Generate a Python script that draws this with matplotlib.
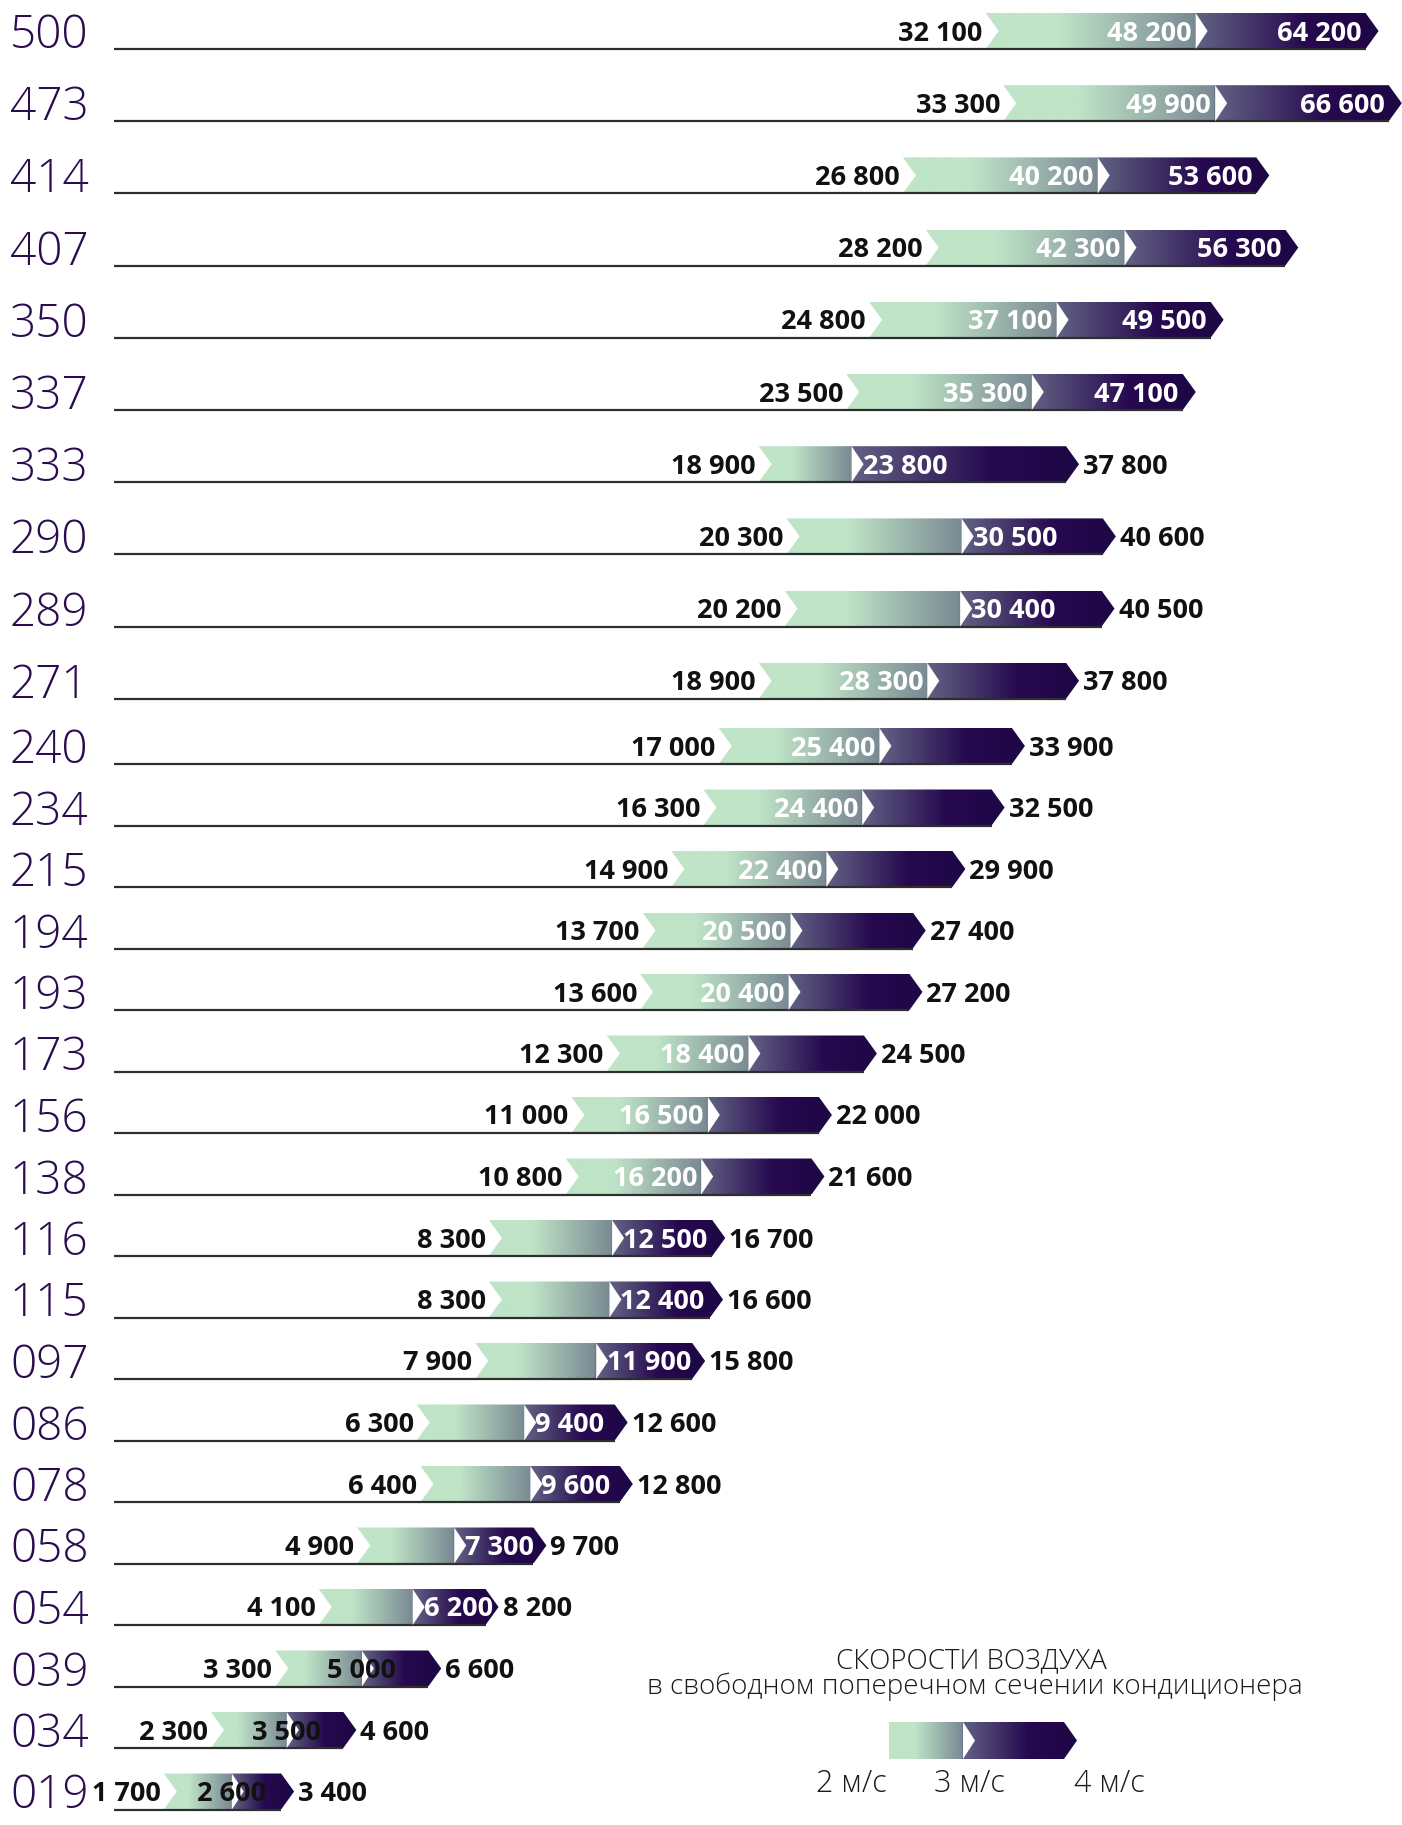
import numpy as np
import matplotlib.pyplot as plt
from matplotlib.patches import Polygon
from matplotlib.transforms import IdentityTransform
from matplotlib.colors import to_rgb

# air flow, m3/h, at 2, 3 and 4 m/s
models = ['500', '473', '414', '407', '350', '337', '333', '290', '289', '271',
          '240', '234', '215', '194', '193', '173', '156', '138', '116', '115',
          '097', '086', '078', '058', '054', '039', '034', '019']
flow_2 = [32100, 33300, 26800, 28200, 24800, 23500, 18900, 20300, 20200, 18900,
          17000, 16300, 14900, 13700, 13600, 12300, 11000, 10800, 8300, 8300,
          7900, 6300, 6400, 4900, 4100, 3300, 2300, 1700]
flow_3 = [48200, 49900, 40200, 42300, 37100, 35300, 23800, 30500, 30400, 28300,
          25400, 24400, 22400, 20500, 20400, 18400, 16500, 16200, 12500, 12400,
          11900, 9400, 9600, 7300, 6200, 5000, 3500, 2600]
flow_4 = [64200, 66600, 53600, 56300, 49500, 47100, 37800, 40600, 40500, 37800,
          33900, 32500, 29900, 27400, 27200, 24500, 22000, 21600, 16700, 16600,
          15800, 12600, 12800, 9700, 8200, 6600, 4600, 3400]

# where the labels sit (layout only)
mid_place = ['before'] * 6 + ['after'] * 3 + ['before'] * 9 + ['after'] * 7 + ['center'] * 3
end_place = ['inside'] * 6 + ['outside'] * 22

W, H = 1402, 1825
P = 0.4
fig = plt.figure(figsize=(W / 100, H / 100), dpi=100)
ax = fig.add_axes([0, 0, 1, 1])
ax.axis('off')


def fwd(v):
    return np.power(np.maximum(v, 1e-9), P)


def inv(u):
    return np.power(np.maximum(u, 0), 1 / P)


ax.set_xscale('function', functions=(fwd, inv))
ax.set_xlim(inv(10.85), inv(85.7))
ax.set_ylim(H, 0)
ax.set_autoscale_on(False)

ident = IdentityTransform()
num_font = dict(family=['Open Sans', 'DejaVu Sans'], fontsize=19.5, fontweight='bold')
cat_color = '#2b0d4f'

GREEN = np.array(to_rgb('#bfe4c7'))
GRAY = np.array(to_rgb('#7a8a93'))
SLATE = np.array(to_rgb('#626284'))
DARK = np.array(to_rgb('#26094f'))
DARKEST = np.array(to_rgb('#1e0745'))


def gradient(xa, xm, xb, tip):
    xs = np.linspace(xa, xb + tip, 300)
    stops = [xa, xa + 0.35 * (xm - xa), xm - 1, xm, xm + 0.65 * (xb - xm), xb + tip]
    cols = [GREEN, GREEN, GRAY, SLATE, DARK, DARKEST]
    img = np.zeros((1, len(xs), 3))
    for c in range(3):
        img[0, :, c] = np.interp(xs, stops, [col[c] for col in cols])
    return img


def arrow_bar(xa, xm, xb, yb, yt, tip=13, notch=13, marker=12):
    ym = (yb + yt) / 2
    pts = [(xa, yb), (xb, yb), (xb + tip, ym), (xb, yt), (xa, yt)]
    if notch:
        pts.append((xa + notch, ym))
    poly = Polygon(pts, closed=True, transform=ident, facecolor='none', edgecolor='none')
    ax.add_patch(poly)
    im = ax.imshow(gradient(xa, xm, xb, tip), extent=(xa, xb + tip, yb, yt),
                   transform=ident, aspect='auto', interpolation='bilinear', origin='lower')
    im.set_clip_path(poly)
    ax.add_patch(Polygon([(xm, yb), (xm + marker, ym), (xm, yt)], closed=True,
                         transform=ident, facecolor='white', edgecolor='none', zorder=3))


def fmt(v):
    return f'{v:,}'.replace(',', ' ')


bar_h = 36
for i, name in enumerate(models):
    y_row = 49 + 72.2 * i if i < 10 else 764 + 61.5 * (i - 10)
    x0, yb = ax.transData.transform((flow_2[i], y_row))
    xm, _ = ax.transData.transform((flow_3[i], y_row))
    x1, _ = ax.transData.transform((flow_4[i], y_row))
    yt = yb + bar_h
    ym = yb + bar_h / 2
    tip = 13

    ax.plot([114, x1], [yb, yb], color='#2e2e2e', lw=1.6, transform=ident, zorder=1,
            solid_capstyle='butt')
    arrow_bar(x0, xm, x1, yb, yt, tip=tip)

    ax.text(10, yb + 1, name, transform=ident, ha='left', va='baseline',
            fontsize=33, fontweight='light', color=cat_color,
            family=['Open Sans', 'DejaVu Sans'])

    tb = ym - 9.5
    ax.text(x0 - 3, tb, fmt(flow_2[i]), transform=ident, ha='right', va='baseline',
            color='#111111', zorder=4, **num_font)

    if mid_place[i] == 'before':
        ax.text(xm - 4, tb, fmt(flow_3[i]), transform=ident, ha='right', va='baseline',
                color='white', zorder=4, **num_font)
    elif mid_place[i] == 'after':
        ax.text(xm + 11, tb, fmt(flow_3[i]), transform=ident, ha='left', va='baseline',
                color='white', zorder=4, **num_font)
    else:
        ax.text(xm, tb, fmt(flow_3[i]), transform=ident, ha='center', va='baseline',
                color='#111111', zorder=4, **num_font)

    if end_place[i] == 'inside':
        ax.text(x1 - 4, tb, fmt(flow_4[i]), transform=ident, ha='right', va='baseline',
                color='white', zorder=4, **num_font)
    else:
        ax.text(x1 + tip + 4, tb, fmt(flow_4[i]), transform=ident, ha='left', va='baseline',
                color='#111111', zorder=4, **num_font)

# legend key
leg_font = dict(family=['Open Sans', 'DejaVu Sans'], fontweight='light', color='#1a1a1a')
ax.text(971, H - 1668, 'СКОРОСТИ ВОЗДУХА', transform=ident, ha='center', va='baseline',
        fontsize=20, **leg_font)
ax.text(975, H - 1694, 'в свободном поперечном сечении кондиционера', transform=ident,
        ha='center', va='baseline', fontsize=20, **leg_font)
arrow_bar(889, 963, 1064, H - 1759, H - 1722, tip=13, notch=0, marker=12)
for lx, lab in zip([851, 969, 1109], ['2 м/с', '3 м/с', '4 м/с']):
    ax.text(lx, H - 1792, lab, transform=ident, ha='center', va='baseline',
            fontsize=22, **leg_font)

fig.savefig('out.png', dpi=100)
